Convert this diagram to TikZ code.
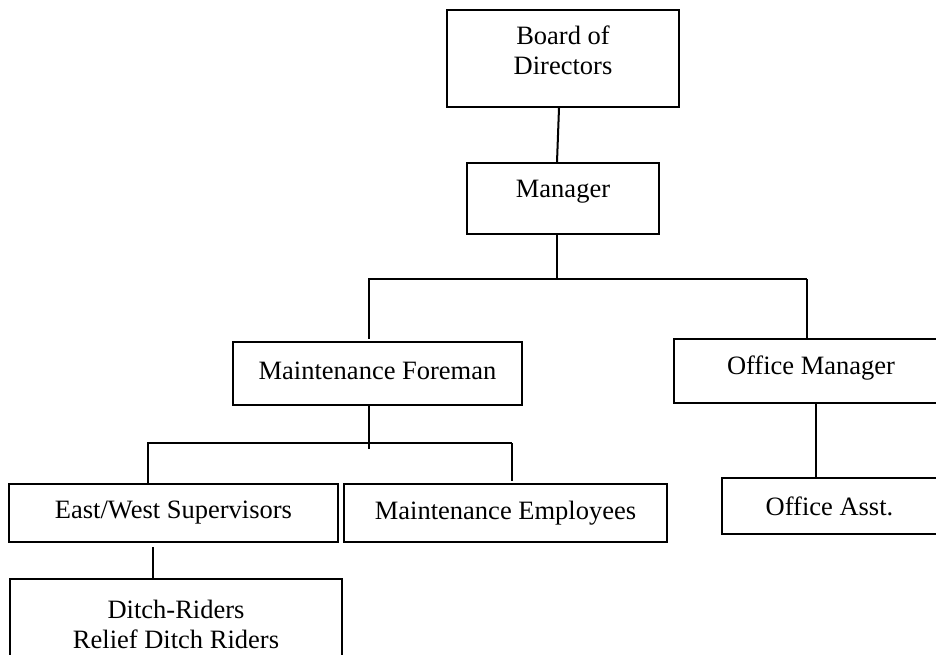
\documentclass[tikz,border=0pt]{standalone}
\usepackage{fontspec}
\setmainfont{Liberation Serif}
\usetikzlibrary{positioning}

\begin{document}
\begin{tikzpicture}[x=1pt, y=-1pt,
  orgbox/.style={draw, line width=2pt, align=center, inner sep=0pt,
    font=\fontsize{26.5}{30}\selectfont},
  link/.style={line width=2pt}]
  \useasboundingbox (0,0) rectangle (936,655);

  % Draw the boxes of the chart
  \node[orgbox, minimum width=232, minimum height=97, text depth=16pt] (board) at (563,58.5) {Board of\\Directors};
  \node[orgbox, minimum width=192, minimum height=71, text depth=20pt] (manager) at (563,198.5) {Manager};
  \node[orgbox, minimum width=289, minimum height=63, text depth=6pt] (foreman) at (377.5,373.5) {Maintenance Foreman};
  \node[orgbox, minimum width=274, minimum height=64, text depth=12pt] (office) at (811,371) {Office Manager};
  \node[orgbox, minimum width=215, minimum height=56] (asst) at (829.5,506) {Office Asst.};
  \node[orgbox, minimum width=329, minimum height=58] (eastwest) at (173.5,513) {East/West Supervisors};
  \node[orgbox, minimum width=323, minimum height=58] (employees) at (505.5,513) {Maintenance Employees};
  \node[orgbox, minimum width=332, minimum height=90] (ditch) at (176,624) {Ditch-Riders\\Relief Ditch Riders};

  % Ends of the two branch lines
  \coordinate (busL) at (368,279);
  \coordinate (busR) at (807,279);
  \coordinate (subL) at (147,443);
  \coordinate (subR) at (512,443);

  % Connect them
  \draw[link] ([xshift=-4pt]board.south) -- ([xshift=-6pt]manager.north);
  \draw[link] ([xshift=-6pt]manager.south) -- ([xshift=-6pt]manager.south |- busL);
  \draw[link] (busL) -- (busR);
  \draw[link] ([xshift=1pt]busL) -- ([xshift=1pt,yshift=2pt]busL |- foreman.north);
  \draw[link] (busR) -- (busR |- office.north);

  \draw[link] ([xshift=-8.5pt]foreman.south) -- ++(0,43);
  \draw[link] (subL) -- (subR);
  \draw[link] ([xshift=1pt]subL) -- ([xshift=1pt]subL |- eastwest.north);
  \draw[link] (subR) -- ([yshift=2pt]subR |- employees.north);

  \draw[link] ([xshift=-20.5pt,yshift=-4pt]eastwest.south) -- ([xshift=-20.5pt]eastwest.south |- ditch.north);
  \draw[link] ([xshift=5pt]office.south) -- ([xshift=5pt]office.south |- asst.north);
\end{tikzpicture}
\end{document}
